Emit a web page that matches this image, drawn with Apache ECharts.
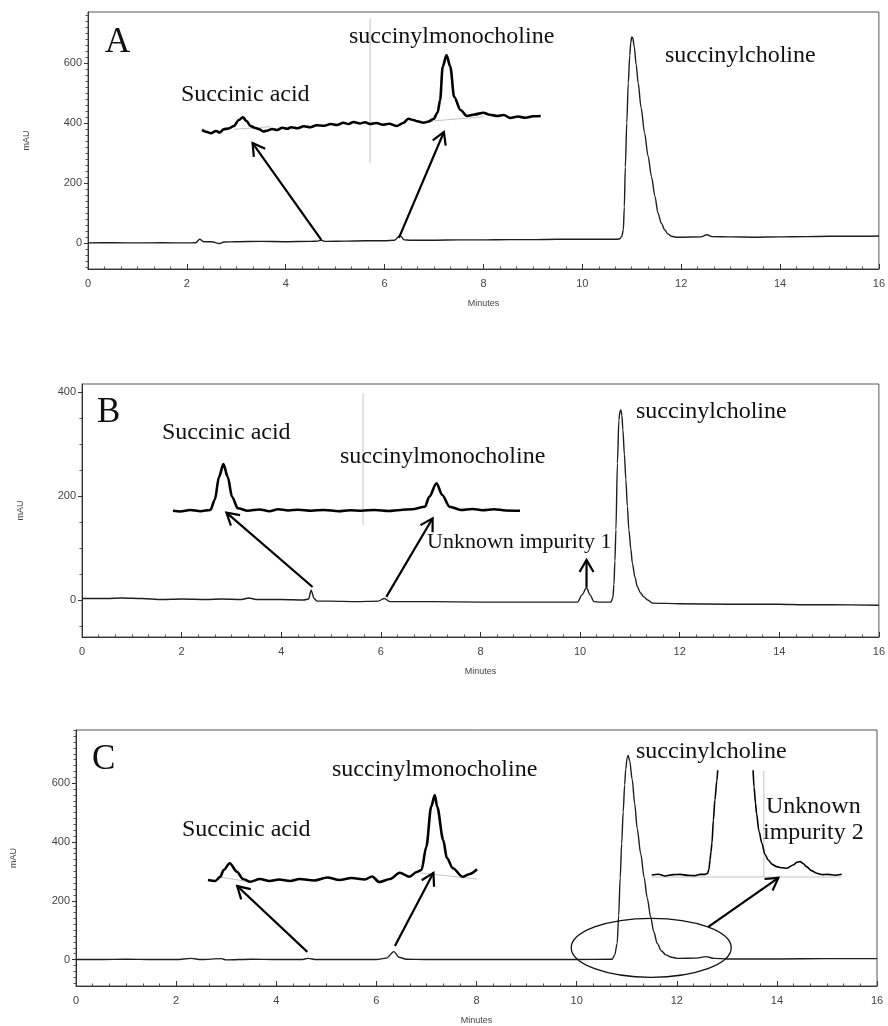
<!DOCTYPE html>
<html>
<head>
<meta charset="utf-8">
<title>Succinylcholine chromatograms</title>
<script src="https://cdn.jsdelivr.net/npm/echarts@6/dist/echarts.min.js"></script>
<style>
  html, body { margin: 0; background: #fff; }
  #main { width: 888px; height: 1026px; }
</style>
</head>
<body>
<div id="main"></div>
<script>
// ---- data (minutes, mAU) ----
var xTicks = [0, 2, 4, 6, 8, 10, 12, 14, 16];
var yTicksA = [0, 200, 400, 600];
var yTicksB = [0, 200, 400];
var yTicksC = [0, 200, 400, 600];

var traceA = [[0,0],[0.5,0.5],[1,0],[1.5,0.5],[2,0],[2.18,0.5],[2.26,12],[2.34,4],[2.5,4],[2.66,-2],[2.75,3],[3,4],[3.5,5],[4,4],[4.5,5],[4.65,6],[4.72,9],[4.8,5],[5.2,6],[5.6,7],[6,7],[6.2,9],[6.31,25],[6.4,10],[6.5,9],[7,9],[7.5,10],[8,10],[8.5,11],[9,11],[9.5,12],[10,12],[10.5,12],[10.7,12],
  [10.76,14],[10.8,22],[10.83,43],[10.85,120],[10.87,253],[10.9,400],[10.93,533],[10.96,625],[10.98,667],[11.0,687],[11.02,684],[11.05,655],[11.09,595],[11.13,533],[11.19,450],[11.26,366],[11.33,290],[11.4,221],[11.47,155],[11.53,100],[11.6,65],[11.67,43],[11.73,30],[11.8,22],[11.9,19],
  [12,19],[12.4,20],[12.52,27],[12.62,21],[13,20],[13.5,19],[14,20],[14.5,21],[15,22],[15.5,22],[16,23]];

var traceB = [[0,3],[0.5,3],[0.8,4],[1.2,3],[1.6,1],[2,2],[2.5,1],[2.8,2],[3.2,1],[3.35,4],[3.5,1],[4,1],[4.45,0],[4.55,2],[4.6,19],[4.66,3],[4.72,-2],[5,-2],[5.5,-3],[5.95,-2],[6.07,3],[6.18,-3],[6.5,-3],[7,-3],[8,-4],[9,-4],[9.95,-4],[10.04,10],[10.13,24],[10.2,10],[10.28,-3],[10.4,-4],[10.62,-4],
  [10.66,5],[10.68,30],[10.7,75],[10.72,135],[10.75,263],[10.78,346],[10.8,362],[10.82,365],[10.84,355],[10.86,327],[10.89,280],[10.92,231],[10.95,180],[10.98,135],[11.02,98],[11.05,71],[11.1,45],[11.15,26],[11.21,14],[11.28,6],[11.36,0],[11.45,-6],
  [12,-7],[13,-8],[14,-8],[14.5,-9],[15,-9],[16,-10]];

var traceC = [[0,0],[0.5,0],[1,1],[1.5,0],[2,0],[2.3,4],[2.5,0],[2.9,3],[3,-1],[3.5,1],[4,0],[4.5,0],[4.64,4],[4.8,0],[5.5,0],[6,0],[6.2,5],[6.35,27],[6.45,8],[6.6,1],[7,0],[8,0],[9,0],[10,0],[10.71,1],
  [10.76,15],[10.81,55],[10.84,150],[10.87,278],[10.9,395],[10.93,502],[10.96,595],[10.98,647],[11.01,688],[11.03,694],[11.06,676],[11.11,613],[11.16,530],[11.21,446],[11.28,360],[11.35,278],[11.41,210],[11.48,144],[11.54,95],[11.61,55],[11.69,30],[11.78,16],[11.9,8],
  [12.01,4],[12.4,5],[12.58,10],[12.75,4],[13,2],[14,2],[15,3],[16,3]];

// zoomed insets (minutes, relative mAU)
var insetA = [[4.38,0],[4.42,-0.8],[4.45,-1.3],[4.49,-0.4],[4.52,-1],[4.55,0.3],[4.59,0.6],[4.63,1.6],[4.67,4],[4.7,5.1],[4.73,3.6],[4.76,1.6],[4.8,0.8],[4.83,0.3],[4.86,-0.6],[4.89,-0.3],[4.93,0.4],[4.97,0],[5.01,0.9],[5.05,0.5],[5.08,1.1],[5.13,0.7],[5.18,1.5],[5.23,1.1],[5.28,1.9],[5.34,1.7],[5.39,2.4],[5.44,2],[5.49,2.9],[5.53,2.4],[5.57,3.2],[5.62,2.6],[5.66,3.1],[5.7,2.4],[5.75,2.8],[5.8,2.1],[5.85,2.5],[5.91,1.6],[5.96,2.8],[6,4.5],[6.04,4],[6.07,3.5],[6.12,2.9],[6.16,3.4],[6.2,4.5],[6.23,7],[6.25,12],[6.27,25.3],[6.3,30],[6.33,25.3],[6.36,13.3],[6.41,8],[6.46,5.6],[6.52,6.2],[6.59,6.9],[6.64,6.1],[6.7,5.6],[6.75,6],[6.8,4.8],[6.86,5.4],[6.92,4.9],[6.98,5.5],[7.04,5.6]];
var insetABase1 = [[4.63,0.3],[4.92,1.3]];
var insetABase2 = [[6.12,3.3],[6.59,5.3]];
var insetACursor = [[5.7,44.8],[5.7,-13.2]];

var insetB = [[4.25,0],[4.3,-0.3],[4.37,0.3],[4.44,-0.2],[4.51,0.3],[4.54,4.3],[4.57,13.6],[4.6,18.7],[4.63,13.6],[4.66,5.6],[4.7,1],[4.77,0],[4.85,0.5],[4.92,-0.2],[4.98,0.6],[5.05,0.1],[5.12,0.4],[5.21,0],[5.3,0.3],[5.4,-0.2],[5.48,0.2],[5.56,0],[5.65,0.3],[5.75,-0.1],[5.83,0.3],[5.91,0.6],[6,1.6],[6.03,5.6],[6.08,11],[6.12,6.3],[6.17,1.6],[6.25,0.3],[6.33,0.7],[6.4,0.2],[6.48,0.6],[6.56,0.1],[6.66,0]];
var insetBCursor = [[5.57,47],[5.57,-5.7]];

var insetC1 = [[4.46,-0.8],[4.52,-1.2],[4.56,0.4],[4.59,3.2],[4.64,5.9],[4.7,2.5],[4.75,-0.4],[4.81,-1.5],[4.89,-0.4],[4.97,-1.2],[5.05,-0.6],[5.14,-1.2],[5.22,-0.4],[5.34,-1],[5.45,0.2],[5.55,-0.8],[5.65,0],[5.76,-0.6],[5.82,0.6],[5.88,-1.6],[5.97,-0.4],[6.05,2.1],[6.13,0.5],[6.19,2.4],[6.23,3.2],[6.27,12.5],[6.31,28.5],[6.34,33.2],[6.36,28.5],[6.41,15.2],[6.44,8],[6.49,3.9],[6.57,0.5],[6.63,1.6],[6.69,3.5]];
var insetC1Base1 = [[4.56,0.4],[4.81,-1.6]];
var insetC1Base2 = [[6.22,2],[6.69,-0.4]];

var insetC2 = [[9.56,0],[9.7,0.4],[9.83,-0.5],[10,0.2],[10.14,0.3],[10.3,-0.2],[10.44,-0.3],[10.55,0.3],[10.65,0.3],[10.7,0.8],[10.73,3],[10.75,7.5],[10.77,11.5],[10.79,15.9],[10.82,27.5],[10.85,37.5],[10.89,47],[10.92,56],[10.95,66],
  [11.59,66],[11.62,56],[11.65,44],[11.68,36],[11.7,30.9],[11.75,22],[11.81,15.9],[11.87,10.5],[11.94,7.5],[12.02,5.3],[12.11,4.2],[12.22,3.6],[12.32,3.4],[12.45,5],[12.52,6.3],[12.59,6.7],[12.66,5.6],[12.72,4.2],[12.82,2.2],[12.93,0.9],[13.05,0.2],[13.16,0.3],[13.3,-0.1],[13.44,0.4]];
var insetC2Base = [[9.56,-1],[13.44,-1]];
var insetC2Cursor = [[11.85,52],[11.85,-1]];

// arrows, in each panel's own minutes / mAU
var arrowsA = [[[4.72,10],[3.33,333]], [[6.29,17],[7.2,370]]];
var arrowsB = [[[4.63,25],[2.9,168]], [[6.11,6],[7.04,157]], [[10.13,25],[10.13,77]]];
var arrowsC = [[[4.62,26],[3.22,250]], [[6.37,46],[7.14,295]], [[12.63,111],[14.03,278]]];
var ellipseC = [11.49, 40];

// ---- chart ----
var chart = echarts.init(document.getElementById('main'));
var serif = '"Liberation Serif", "Times New Roman", serif';
var sans = '"Liberation Sans", Arial, sans-serif';

function minorValues(lo, hi, step, majors) {
  var out = [];
  for (var v = Math.ceil(lo / step) * step; v <= hi; v += step) {
    if (majors.indexOf(v) < 0) out.push(v);
  }
  return out;
}

var panels = [
  { grid: { left: 88, top: 12, width: 793, height: 257 }, y: [-87, 770], ticks: yTicksA, minor: 20, gap: 57 },
  { grid: { left: 82, top: 384, width: 798, height: 253 }, y: [-71, 415], ticks: yTicksB, minor: 50, gap: 57 },
  { grid: { left: 76, top: 730, width: 801, height: 260 }, y: [-90, 781], ticks: yTicksC, minor: 20, gap: 58 }
];
var insets = [
  { grid: { left: 202, top: 15, width: 340, height: 150 }, x: [4.38, 7.05], y: [-14, 46] },
  { grid: { left: 173, top: 385.7, width: 347, height: 145 }, x: [4.25, 6.66], y: [-8, 50] },
  { grid: { left: 208, top: 778, width: 269, height: 115 }, x: [4.46, 6.69], y: [-6, 40] },
  { grid: { left: 651.7, top: 771, width: 190, height: 114 }, x: [9.56, 13.44], y: [-5, 52] }
];

var grids = [], xAxes = [], yAxes = [], series = [];
panels.forEach(function (p, i) {
  grids.push(Object.assign({ show: true, borderColor: '#555', borderWidth: 1, backgroundColor: 'transparent' }, p.grid));
  xAxes.push({
    gridIndex: i, type: 'value', min: 0, max: 16, interval: 2,
    name: 'Minutes', nameLocation: 'middle', nameGap: 30,
    nameTextStyle: { fontFamily: sans, fontSize: 9, color: '#444' },
    axisLine: { onZero: false, lineStyle: { color: '#333', width: 1 } },
    axisTick: { inside: true, length: 5, lineStyle: { color: '#333' } },
    minorTick: { show: true, splitNumber: 6, length: 2.5, lineStyle: { color: '#555' } },
    axisLabel: { fontFamily: sans, fontSize: 11, color: '#444', margin: 9,
      customValues: xTicks },
    splitLine: { show: false }
  });
  yAxes.push({
    gridIndex: i, type: 'value', min: p.y[0], max: p.y[1],
    name: 'mAU', nameLocation: 'middle', nameRotate: 90, nameGap: p.gap,
    nameTextStyle: { fontFamily: sans, fontSize: 9, color: '#444' },
    axisLine: { show: true, onZero: false, lineStyle: { color: '#333', width: 1 } },
    axisTick: { show: true, length: 4, customValues: p.ticks, lineStyle: { color: '#333' } },
    axisLabel: { fontFamily: sans, fontSize: 11, color: '#444', margin: 6, customValues: p.ticks },
    splitLine: { show: false }
  });
});
insets.forEach(function (s, k) {
  var gi = 3 + k;
  grids.push(Object.assign({ show: false }, s.grid));
  xAxes.push({ gridIndex: gi, type: 'value', min: s.x[0], max: s.x[1], show: false, splitLine: { show: false } });
  yAxes.push({ gridIndex: gi, type: 'value', min: s.y[0], max: s.y[1], show: false, splitLine: { show: false } });
});
// minor y ticks on the main panels
panels.forEach(function (p, i) {
  yAxes.push({
    gridIndex: i, type: 'value', min: p.y[0], max: p.y[1], position: 'left',
    axisLine: { show: false, onZero: false },
    axisTick: { show: true, length: 2.5, customValues: minorValues(p.y[0], p.y[1], p.minor, p.ticks), lineStyle: { color: '#555' } },
    axisLabel: { show: false }, splitLine: { show: false }
  });
});

function line(data, xi, yi, color, width) {
  return {
    type: 'line', data: data, xAxisIndex: xi, yAxisIndex: yi,
    symbol: 'none', smooth: 0.3, smoothMonotone: 'x', clip: true, silent: true,
    lineStyle: { color: color, width: width }, z: 3
  };
}
series.push(line(traceA, 0, 0, '#1e1e1e', 1.4));
series.push(line(traceB, 1, 1, '#1e1e1e', 1.4));
series.push(line(traceC, 2, 2, '#1e1e1e', 1.4));

var grey = '#c4c4c4';
[[insetACursor, 3], [insetABase1, 3], [insetABase2, 3], [insetBCursor, 4],
 [insetC1Base1, 5], [insetC1Base2, 5], [insetC2Base, 6], [insetC2Cursor, 6]].forEach(function (g) {
  var s = line(g[0], g[1], g[1], grey, 1);
  s.smooth = false; s.z = 2;
  series.push(s);
});
series.push(line(insetA, 3, 3, '#000', 2.6));
series.push(line(insetB, 4, 4, '#000', 2.6));
series.push(line(insetC1, 5, 5, '#000', 2.6));
series.push(line(insetC2, 6, 6, '#000', 1.6));

chart.setOption({
  animation: false,
  backgroundColor: '#fff',
  grid: grids, xAxis: xAxes, yAxis: yAxes, series: series
});

// ---- annotations ----
function text(str, x, y, size) {
  return {
    type: 'text', z: 10,
    style: { text: str, x: x, y: y, fill: '#111', font: size + 'px ' + serif,
      verticalAlign: 'middle', textVerticalAlign: 'middle' }
  };
}
function arrow(p0, p1) {
  var dx = p1[0] - p0[0], dy = p1[1] - p0[1];
  var len = Math.sqrt(dx * dx + dy * dy), ux = dx / len, uy = dy / len;
  var h = 12, w = 7;
  var bx = p1[0] - ux * h, by = p1[1] - uy * h;
  var st = { stroke: '#000', lineWidth: 2.2, fill: 'none' };
  return [
    { type: 'line', z: 10, shape: { x1: p0[0], y1: p0[1], x2: p1[0], y2: p1[1] }, style: st },
    { type: 'polyline', z: 10, shape: { points: [[bx - uy * w, by + ux * w], p1, [bx + uy * w, by - ux * w]] }, style: st }
  ];
}
function px(i, v) { return chart.convertToPixel({ xAxisIndex: i, yAxisIndex: i }, v); }

var graphic = [
  text('A', 105, 43, 35),
  text('Succinic acid', 181, 95, 24),
  text('succinylmonocholine', 349, 37, 24),
  text('succinylcholine', 665, 56, 24),
  text('B', 97, 413, 35),
  text('Succinic acid', 162, 433, 24),
  text('succinylmonocholine', 340, 457, 24),
  text('succinylcholine', 636, 412, 24),
  text('Unknown impurity 1', 427, 542, 22),
  text('C', 92, 760, 35),
  text('Succinic acid', 182, 830, 24),
  text('succinylmonocholine', 332, 770, 24),
  text('succinylcholine', 636, 752, 24),
  text('Unknown', 766, 807, 24),
  text('impurity 2', 763, 833, 24)
];
[arrowsA, arrowsB, arrowsC].forEach(function (list, i) {
  list.forEach(function (a) {
    graphic = graphic.concat(arrow(px(i, a[0]), px(i, a[1])));
  });
});
var ec = px(2, ellipseC);
graphic.push({ type: 'ellipse', z: 10, shape: { cx: ec[0], cy: ec[1], rx: 80, ry: 29.5 },
  style: { stroke: '#111', lineWidth: 1.3, fill: 'none' } });

chart.setOption({ graphic: graphic });
</script>
</body>
</html>
